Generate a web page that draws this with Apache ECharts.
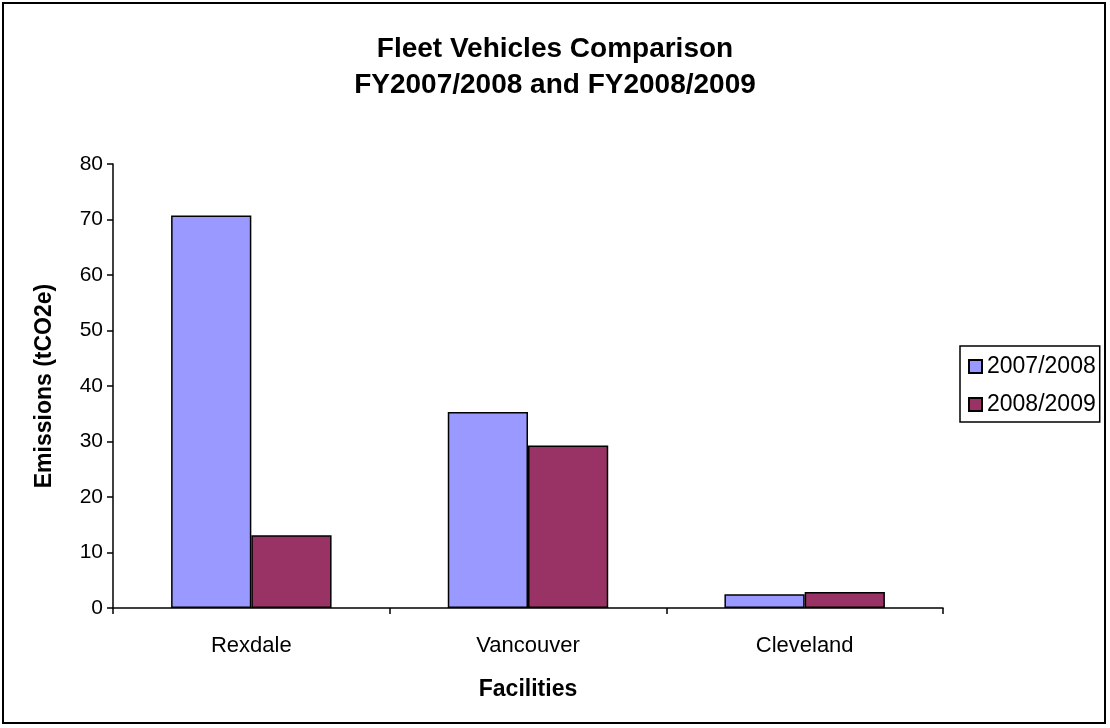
<!DOCTYPE html>
<html>
<head>
<meta charset="utf-8">
<style>
  html, body { margin: 0; padding: 0; background: #fff; }
  #chart { width: 1110px; height: 728px; }
</style>
<script src="https://cdn.jsdelivr.net/npm/echarts@6/dist/echarts.min.js"></script>
</head>
<body>
<div id="chart"></div>
<script>
// data
var facilities = ['Rexdale', 'Vancouver', 'Cleveland'];
var fy0708 = [70.7, 35.3, 2.5];
var fy0809 = [13.1, 29.3, 2.9];
var seriesNames = ['2007/2008', '2008/2009'];
var yTicks = { min: 0, max: 80, step: 10 };

var font = '"Liberation Sans", Arial, sans-serif';

var chart = echarts.init(document.getElementById('chart'));

chart.setOption({
    animation: false,
    backgroundColor: '#fff',
    textStyle: { fontFamily: font, color: '#000' },
    title: {
        text: 'Fleet Vehicles Comparison\nFY2007/2008 and FY2008/2009',
        left: 'center',
        top: 26,
        textStyle: {
            fontFamily: font,
            fontSize: 28,
            fontWeight: 'bold',
            lineHeight: 36,
            color: '#000'
        }
    },
    legend: {
        orient: 'vertical',
        left: 960,
        top: 346,
        padding: [9, 4, 6, 8],
        itemGap: 15,
        itemWidth: 13,
        itemHeight: 13,
        borderColor: '#000',
        borderWidth: 1.5,
        icon: 'rect',
        textStyle: { fontFamily: font, fontSize: 23, color: '#000' },
        data: seriesNames
    },
    grid: {
        left: 113,
        right: 167,
        top: 164,
        bottom: 120
    },
    xAxis: {
        type: 'category',
        data: facilities,
        name: 'Facilities',
        nameLocation: 'middle',
        nameGap: 70,
        nameTextStyle: { fontFamily: font, fontSize: 23, fontWeight: 'bold', color: '#000' },
        axisLine: { lineStyle: { color: '#000', width: 1.5 } },
        axisTick: { show: true, length: 6, lineStyle: { color: '#000', width: 1.5 } },
        axisLabel: { fontFamily: font, fontSize: 22, color: '#000', margin: 27 },
        splitLine: { show: false }
    },
    yAxis: {
        type: 'value',
        min: yTicks.min,
        max: yTicks.max,
        interval: yTicks.step,
        name: 'Emissions (tCO2e)',
        nameLocation: 'middle',
        nameGap: 57,
        nameTextStyle: { fontFamily: font, fontSize: 23, fontWeight: 'bold', color: '#000' },
        axisLine: { show: true, lineStyle: { color: '#000', width: 1.5 } },
        axisTick: { show: true, length: 6, lineStyle: { color: '#000', width: 1.5 } },
        axisLabel: { fontFamily: font, fontSize: 21, color: '#000', margin: 10 },
        splitLine: { show: false }
    },
    series: [{
        name: seriesNames[0],
        type: 'bar',
        data: fy0708,
        barGap: '0%',
        barCategoryGap: '42%',
        itemStyle: { color: '#9999FF', borderColor: '#000', borderWidth: 1.5 }
    }, {
        name: seriesNames[1],
        type: 'bar',
        data: fy0809,
        itemStyle: { color: '#993366', borderColor: '#000', borderWidth: 1.5 }
    }],
    graphic: [{
        type: 'rect',
        silent: true,
        z: 100,
        shape: { x: 3, y: 3, width: 1102, height: 720 },
        style: { fill: null, stroke: '#000', lineWidth: 2 }
    }]
});
</script>
</body>
</html>
